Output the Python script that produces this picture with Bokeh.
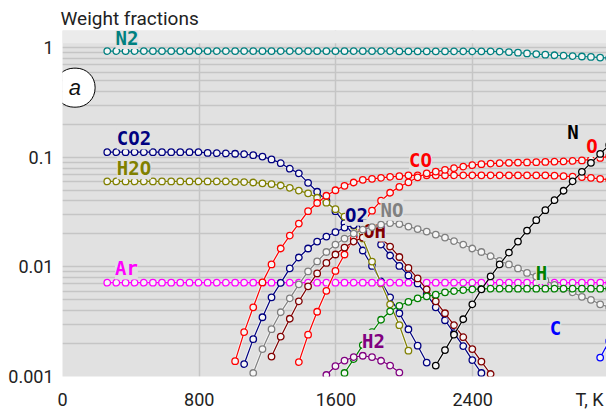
from bokeh.plotting import figure
from bokeh.models import Range1d, FixedTicker, CustomJSTickFormatter, Label, BoxAnnotation
from bokeh.core.properties import value
from bokeh.embed import file_html
from bokeh.resources import INLINE

# Temperature grid (K) of the computed points
T = [262, 315, 369, 422, 476, 529, 582, 636, 689, 743, 796, 849, 903, 956, 1010,
     1063, 1116, 1170, 1223, 1277, 1330, 1383, 1437, 1490, 1544, 1597, 1650, 1704,
     1757, 1811, 1864, 1917, 1971, 2024, 2078, 2131, 2184, 2238, 2291, 2345, 2398,
     2451, 2505, 2558, 2612, 2665, 2718, 2772, 2825, 2879, 2932, 2985, 3039, 3092,
     3146, 3199]

# Weight fractions (each series starts at index *_start of T)
n2_start = 0
n2 = [0.935, 0.935, 0.935, 0.935, 0.935, 0.935, 0.935, 0.935, 0.935, 0.935, 0.935,
      0.935, 0.935, 0.935, 0.935, 0.935, 0.935, 0.935, 0.935, 0.935, 0.935, 0.935,
      0.935, 0.935, 0.935, 0.935, 0.935, 0.935, 0.935, 0.935, 0.935, 0.935,
      0.93, 0.93, 0.93, 0.93, 0.93, 0.93, 0.93, 0.93, 0.93, 0.93, 0.93,
      0.925, 0.915, 0.903, 0.89, 0.877, 0.866, 0.856, 0.848, 0.841, 0.834, 0.826,
      0.815, 0.805]

co2_start = 0
co2 = [0.1115, 0.1115, 0.1115, 0.1115, 0.1115, 0.1115, 0.1115, 0.1115, 0.1115,
       0.1115, 0.1115, 0.1099, 0.1092, 0.1088, 0.1080, 0.1069, 0.1047, 0.1017,
       0.0959, 0.0886, 0.0789, 0.0715, 0.0586, 0.0486, 0.0402, 0.0323, 0.0251,
       0.01934, 0.01413, 0.01021, 0.00738, 0.00528, 0.00378, 0.00270, 0.00191,
       0.00134]

h2o_start = 0
h2o = [0.0603, 0.0603, 0.0603, 0.0603, 0.0603, 0.0603, 0.0603, 0.0603, 0.0603,
       0.0603, 0.0603, 0.0603, 0.0603, 0.0603, 0.0599, 0.0595, 0.0590, 0.0580,
       0.0571, 0.0554, 0.0528, 0.0498, 0.0470, 0.0428, 0.0386, 0.0337, 0.0288,
       0.0238, 0.0182, 0.0112, 0.00708, 0.00456, 0.00294, 0.00172]

ar_start = 0
ar = [0.00718] * 56

co_start = 14
co = [0.00138, 0.00254, 0.00428, 0.00723, 0.01054, 0.01473, 0.01934, 0.02486,
      0.03229, 0.03835, 0.04467, 0.05012, 0.05506, 0.0590, 0.06244, 0.06375,
      0.0651, 0.06648, 0.06746, 0.0686, 0.0686, 0.0686, 0.0686, 0.0686, 0.0686,
      0.0686, 0.0686, 0.0686, 0.0686, 0.0686, 0.0686, 0.0686, 0.0686, 0.0686,
      0.0686, 0.06817, 0.06746, 0.06676, 0.06607, 0.0651, 0.06375, 0.06244]

o_start = 21
o = [0.001354, 0.002408, 0.003899, 0.00605, 0.009196, 0.01299, 0.01816, 0.02486,
     0.03263, 0.04023, 0.04756, 0.05393, 0.05925, 0.06579, 0.07152, 0.07427,
     0.07696, 0.07975, 0.08248, 0.08493, 0.08673, 0.08781, 0.08856, 0.08913,
     0.08969, 0.09006, 0.09045, 0.09101, 0.09139, 0.09196, 0.09293, 0.09391,
     0.09588, 0.09897, 0.1021]

o2_start = 15
o2 = [0.001299, 0.002193, 0.003474, 0.005282, 0.007152, 0.009691, 0.0122, 0.01473,
      0.01706, 0.01894, 0.02081, 0.02286, 0.02409, 0.02359, 0.02016, 0.01602,
      0.01272, 0.01021, 0.008373, 0.007079, 0.005623, 0.004283, 0.003263,
      0.002486, 0.001894, 0.001413, 0.001076]

oh_start = 18
oh = [0.00152, 0.00231, 0.003367, 0.004858, 0.006648, 0.008727, 0.01088, 0.01299,
      0.01504, 0.01706, 0.01854, 0.01913, 0.01816, 0.01536, 0.01233, 0.009793,
      0.007862, 0.006245, 0.004858, 0.003778, 0.002938, 0.002286, 0.001778,
      0.001369, 0.001054]

no_start = 16
no = [0.001076, 0.001778, 0.002702, 0.003858, 0.005171, 0.006934, 0.009102,
      0.01122, 0.01369, 0.01602, 0.01816, 0.02016, 0.02193, 0.0231, 0.02434,
      0.02512, 0.0246, 0.02334, 0.02215, 0.02102, 0.01974, 0.01854, 0.01722,
      0.01602, 0.01473, 0.01369, 0.01253, 0.01134, 0.01054, 0.009691, 0.00882,
      0.008196, 0.00754, 0.006862, 0.00631, 0.005864, 0.005337, 0.005012,
      0.00456, 0.004283]

h_start = 26
h = [0.001076, 0.001442, 0.001934, 0.002538, 0.003297, 0.003938, 0.004418,
     0.004805, 0.005171, 0.005392, 0.005588, 0.005864, 0.006026, 0.006153,
     0.006245, 0.00631, 0.006336, 0.006336, 0.006336, 0.006336, 0.006336,
     0.006336, 0.006336, 0.006336, 0.006336, 0.006336, 0.006336, 0.006336,
     0.006336, 0.006336]

h2_start = 24
h2 = [0.001032, 0.001246, 0.001398, 0.001504, 0.001546, 0.001504, 0.001392,
      0.001259, 0.001087]

n_start = 36
n = [0.001259, 0.001741, 0.002408, 0.003332, 0.00456, 0.006245, 0.008196, 0.01054,
     0.01354, 0.01706, 0.02147, 0.02675, 0.03297, 0.04066, 0.04959, 0.06049,
     0.07382, 0.08913, 0.1076, 0.1299]

c_start = 54
c = [0.001488, 0.002102]

# Series names, colours, label anchors (T, fraction)
names = ["N2", "CO2", "H2O", "Ar", "CO", "O", "O2", "OH", "NO", "H", "H2", "N", "C"]
series = [n2, co2, h2o, ar, co, o, o2, oh, no, h, h2, n, c]
starts = [n2_start, co2_start, h2o_start, ar_start, co_start, o_start, o2_start,
          oh_start, no_start, h_start, h2_start, n_start, c_start]
colors = ["#008080", "#000080", "#808000", "#ff00ff", "#ff0000", "#ff0000",
          "#000080", "#800000", "#808080", "#008000", "#800080", "#000000", "#0000ff"]
label_x = [377, 418, 418, 374, 2095, 3098, 1720, 1826, 1928, 2803, 1820, 2987, 2885]
label_y = [1.233, 0.1489, 0.0794, 0.00969, 0.0949, 0.1272, 0.0300, 0.0215,
           0.0333, 0.00882, 0.00212, 0.1723, 0.00275]

x_ticks = [0, 800, 1600, 2400, 3084]
x_tick_text = {3084: "T, K"}
y_ticks = [0.001, 0.01, 0.1, 1]
y_minor = [2e-3, 3e-3, 4e-3, 5e-3, 6e-3, 7e-3, 8e-3, 9e-3,
           2e-2, 3e-2, 4e-2, 5e-2, 6e-2, 7e-2, 8e-2, 9e-2,
           0.2, 0.3, 0.4, 0.5, 0.6, 0.7, 0.8, 0.9]

BG = "#e1e1e1"
GRID = "#c5c5c5"
AXFONT = "Roboto"

p = figure(width=606, height=412, x_range=Range1d(0, 3183), y_range=Range1d(0.001, 1.44),
           y_axis_type="log", output_backend="svg", toolbar_location=None,
           min_border_left=62, min_border_right=0, min_border_top=30, min_border_bottom=34)
p.background_fill_color = BG
p.border_fill_color = "white"
p.outline_line_color = None

p.title.text = "Weight fractions"
p.title.text_font = AXFONT
p.title.text_font_size = "19px"
p.title.text_font_style = "normal"
p.title.text_color = "#222222"
p.title.align = "left"
p.title.offset = -2
p.title.standoff = 2

yt = FixedTicker(ticks=y_ticks, minor_ticks=y_minor)
p.yaxis.ticker = yt
p.ygrid.ticker = yt
p.xaxis.ticker = FixedTicker(ticks=x_ticks)
p.xaxis.major_label_overrides = x_tick_text
p.xgrid.ticker = FixedTicker(ticks=x_ticks[1:4])
p.yaxis.formatter = CustomJSTickFormatter(code="return tick.toString();")

for ax in (p.xaxis, p.yaxis):
    ax.axis_line_color = None
    ax.major_tick_line_color = None
    ax.minor_tick_line_color = None
    ax.major_tick_out = 0
    ax.major_tick_in = 0
    ax.minor_tick_out = 0
    ax.minor_tick_in = 0
    ax.major_label_text_font = AXFONT
    ax.major_label_text_font_size = "18px"
    ax.major_label_text_color = "#222222"
p.xaxis.major_label_standoff = 12
p.yaxis.major_label_standoff = 9

p.ygrid.grid_line_color = GRID
p.ygrid.grid_line_width = 1.5
p.ygrid.minor_grid_line_color = GRID
p.ygrid.minor_grid_line_width = 1.5
p.xgrid.grid_line_color = GRID
p.xgrid.grid_line_width = 1.5

p.add_layout(BoxAnnotation(bottom=1.1, fill_color="#ebebeb", fill_alpha=1.0,
                           line_color=None, level="underlay"))

for name, vals, st, col, lx, ly in zip(names, series, starts, colors, label_x, label_y):
    xs = T[st:st + len(vals)]
    p.line(xs, vals, line_color="white", line_width=3.2, line_alpha=0.55)
    p.line(xs, vals, line_color=col, line_width=1.2)
    p.scatter(xs, vals, marker="circle", size=6.5, fill_color="#f6f6f6",
              line_color=col, line_width=1.3)
    p.text(x=[lx], y=[ly], text=[name], text_color=col,
           text_font=value("DejaVu Sans Mono"), text_font_size="19px",
           text_font_style="bold", text_align="center", text_baseline="middle",
           background_fill_color=BG, padding=0)

p.add_layout(Label(x=73, y=0.433, text="a", text_font="Liberation Sans",
                   text_font_style="italic", text_font_size="22px", text_color="#111111",
                   text_align="center", text_baseline="middle",
                   background_fill_color="white", border_line_color="black",
                   border_line_width=1,
                   padding=dict(left=14, right=14, top=7, bottom=7), border_radius=19))

open("out.html", "w").write(file_html(p, INLINE))
